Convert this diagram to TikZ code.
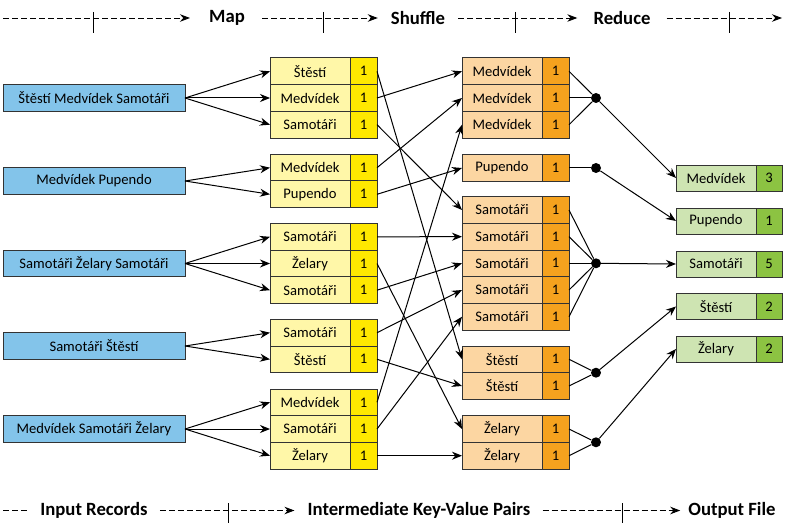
\documentclass[tikz,border=0pt]{standalone}
\usepackage{fontspec}
\setmainfont{Carlito}
\usetikzlibrary{positioning,arrows.meta}
\definecolor{recblue}{RGB}{131,196,234}
\definecolor{mapkeyc}{RGB}{255,247,168}
\definecolor{mapvalc}{RGB}{255,232,0}
\definecolor{shufkeyc}{RGB}{252,214,162}
\definecolor{shufvalc}{RGB}{245,162,30}
\definecolor{outkeyc}{RGB}{206,228,178}
\definecolor{outvalc}{RGB}{140,195,66}

\begin{document}
\begin{tikzpicture}[x=1pt, y=-1pt,
		font=\fontsize{14.6}{17}\selectfont,
		cell/.style={draw=black!80, line width=0.9pt, inner sep=0pt, outer sep=0pt, minimum height=26.7pt},
		record/.style={cell, fill=recblue, minimum width=182pt},
		mapkey/.style={cell, fill=mapkeyc, minimum width=80pt},
		mapval/.style={cell, fill=mapvalc, minimum width=27pt},
		shufkey/.style={cell, fill=shufkeyc, minimum width=80pt},
		shufval/.style={cell, fill=shufvalc, minimum width=27pt},
		outkey/.style={cell, fill=outkeyc, minimum width=80pt, minimum height=26pt},
		outval/.style={cell, fill=outvalc, minimum width=26pt, minimum height=26pt},
		link/.style={line width=1pt, -{Stealth[length=10pt,width=8pt]}},
		merge/.style={line width=1pt},
		joint/.style={circle, fill=black, inner sep=0pt, minimum size=10pt},
		phase/.style={font=\fontsize{18.7}{20}\selectfont\bfseries, inner sep=0pt},
		phasebar/.style={line width=0.9pt, dash pattern=on 6pt off 3pt},
		phasebarto/.style={phasebar, -{Stealth[length=10pt,width=7.5pt]}},
		tick/.style={line width=0.9pt}]
		\useasboundingbox (0,0) rectangle (785,524);

		% Phases along the top
		\node[phase] (map) at (227,18) {Map};
		\node[phase] (shuffle) at (418,18) {Shuffle};
		\node[phase] (reduce) at (622,18) {Reduce};
		\coordinate (top0) at (3,18);
		\coordinate (top1) at (782,18);
		\draw[phasebarto, shorten >=19pt] (top0) -- (map);
		\draw[phasebarto, shorten <=17pt, shorten >=13pt] (map) -- (shuffle);
		\draw[phasebarto, shorten <=13pt, shorten >=16pt] (shuffle) -- (reduce);
		\draw[phasebarto, shorten <=16pt] (reduce) -- (top1);
		\foreach \x in {93,323,515,729}
			\draw[tick] (\x,12) -- (\x,33);

		% Data along the bottom
		\node[phase] (inrec) at (94,510.5) {Input Records};
		\node[phase] (interm) at (419,510.5) {Intermediate Key-Value Pairs};
		\node[phase] (outfile) at (732,510.5) {Output File};
		\coordinate (bot0) at (3,510.5);
		\draw[phasebar, shorten >=13pt] (bot0) -- (inrec);
		\draw[phasebarto, shorten <=12pt, shorten >=13pt] (inrec) -- (interm);
		\draw[phasebarto, shorten <=12pt, shorten >=8pt] (interm) -- (outfile);
		\foreach \x in {228,622}
			\draw[tick] (\x,503) -- (\x,523);

		% Input records
		\node[record] (rec1) at (94,98) {Štěstí Medvídek Samotáři};
		\node[record] (rec2) at (94,181) {Medvídek Pupendo};
		\node[record] (rec3) at (94,263.5) {Samotáři Želary Samotáři};
		\node[record] (rec4) at (94,346) {Samotáři Štěstí};
		\node[record] (rec5) at (94,429) {Medvídek Samotáři Želary};

		% Map output
		\foreach \i/\y/\w in {1/71.3/Štěstí, 2/98/Medvídek, 3/124.7/Samotáři, 4/167.7/Medvídek,
				5/194.3/Pupendo, 6/236.8/Samotáři, 7/263.5/Želary, 8/290.2/Samotáři, 9/332.7/Samotáři,
				10/359.3/Štěstí, 11/402.3/Medvídek, 12/429/Samotáři, 13/455.7/Želary} {
			\node[mapkey] (mk\i) at (310,\y) {\w};
			\node[mapval, right=0pt of mk\i] (mv\i) {1};
		}

		% Shuffled pairs
		\foreach \i/\y/\w in {1/71.3/Medvídek, 2/98/Medvídek, 3/124.7/Medvídek, 4/168/Pupendo,
				5/210/Samotáři, 6/236.7/Samotáři, 7/263.3/Samotáři, 8/290/Samotáři, 9/316.7/Samotáři,
				10/359.3/Štěstí, 11/386/Štěstí, 12/429/Želary, 13/455.7/Želary} {
			\node[shufkey] (sk\i) at (502,\y) {\w};
			\node[shufval, right=0pt of sk\i] (sv\i) {1};
		}

		% Reduce points
		\node[joint] (jmed) at (596,98) {};
		\node[joint] (jpup) at (596,168) {};
		\node[joint] (jsam) at (596,263.3) {};
		\node[joint] (jste) at (596,372.7) {};
		\node[joint] (jzel) at (596,442.3) {};

		% Output file
		\foreach \i/\y/\w/\n in {1/178/Medvídek/3, 2/221/Pupendo/1, 3/264/Samotáři/5,
				4/306.5/Štěstí/2, 5/349/Želary/2} {
			\node[outkey] (ok\i) at (716,\y) {\w};
			\node[outval, right=0pt of ok\i] (ov\i) {\n};
		}

		% Records to map
		\foreach \r/\k in {1/1,1/2,1/3,2/4,2/5,3/6,3/7,3/8,4/9,4/10,5/11,5/12,5/13}
			\draw[link] (rec\r.east) -- (mk\k.west);

		% Map to shuffle
		\foreach \m/\s in {1/10,2/1,3/5,4/2,5/4,6/6,7/12,8/7,9/8,10/11,11/3,12/9,13/13}
			\draw[link] (mv\m.east) -- (sk\s.west);

		% Shuffle to reduce
		\foreach \s/\j in {1/jmed,2/jmed,3/jmed,4/jpup,5/jsam,6/jsam,7/jsam,8/jsam,9/jsam,
				10/jste,11/jste,12/jzel,13/jzel}
			\draw[merge] (sv\s.east) -- (\j);

		% Reduce to output
		\draw[link] (jmed) -- (ok1.west);
		\draw[link] (jpup) -- (ok2.west);
		\draw[link] (jsam) -- (ok3.west);
		\draw[link] (jste) -- (ok4.west);
		\draw[link] (jzel) -- (ok5.west);

	\end{tikzpicture}
\end{document}
